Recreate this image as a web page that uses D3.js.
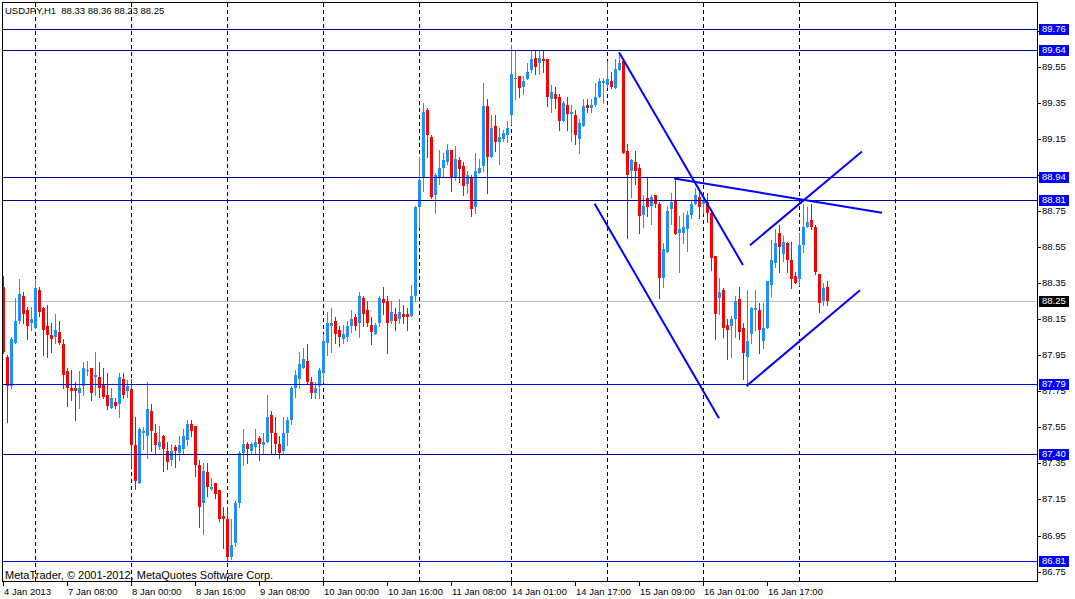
<!DOCTYPE html>
<html>
<head>
<meta charset="utf-8">
<script src="https://cdn.jsdelivr.net/npm/d3@7"></script>
<style>
body{margin:0;background:#fff;}
svg{display:block;font-family:"Liberation Sans",Arial,sans-serif;}
</style>
</head>
<body>
<svg id="chart" width="1075" height="599"></svg>
<script>
// USDJPY H1 bars, oldest first (4 Jan 16:00 .. 16 Jan 21:00)
const opens=[88.33,87.94,87.78,88.02,88.14,88.28,88.20,88.13,88.10,88.31,88.21,88.11,88.06,88.05,88.08,88.01,87.86,87.77,87.77,87.74,
87.78,87.86,87.88,87.83,87.83,87.79,87.73,87.66,87.69,87.68,87.82,87.75,87.76,87.45,87.24,87.52,87.50,87.64,87.52,87.44,
87.50,87.42,87.37,87.44,87.41,87.43,87.48,87.57,87.56,87.34,87.13,87.30,87.21,87.24,87.20,87.06,87.04,86.83,86.91,87.13,
87.41,87.46,87.42,87.44,87.49,87.45,87.47,87.62,87.52,87.46,87.42,87.52,87.59,87.77,87.82,87.88,87.92,87.80,87.74,87.78,
87.85,88.02,88.11,88.14,88.09,88.04,88.05,88.11,88.16,88.13,88.27,88.20,88.12,88.07,88.13,88.26,88.25,88.14,88.18,88.15,
88.18,88.18,88.17,88.28,88.77,88.93,89.31,89.16,88.84,88.94,88.99,89.02,89.09,88.94,89.03,89.00,88.90,88.94,88.77,88.96,
89.00,89.33,89.05,89.22,89.13,89.15,89.17,89.28,89.48,89.50,89.44,89.48,89.53,89.60,89.57,89.59,89.59,89.37,89.40,89.38,
89.25,89.34,89.29,89.28,89.15,89.22,89.34,89.32,89.34,89.38,89.46,89.45,89.47,89.43,89.53,89.58,89.08,88.97,89.02,88.99,
88.73,88.82,88.78,88.84,88.79,88.38,88.52,88.76,88.81,88.63,88.63,88.65,88.73,88.79,88.83,88.79,88.80,88.74,88.50,88.27,
88.31,88.12,88.11,88.15,88.26,88.10,87.94,88.07,88.20,88.20,88.03,88.10,88.34,88.46,88.63,88.51,88.57,88.48,88.39,88.37,
88.56,88.66,88.70,88.66,88.40,88.25,88.33];
const highs=[88.39,87.95,88.05,88.27,88.37,88.30,88.22,88.22,88.37,88.33,88.22,88.23,88.13,88.18,88.14,88.04,87.88,87.87,87.80,87.86,
87.91,87.92,87.88,87.97,87.91,87.88,87.85,87.77,87.71,87.85,87.85,87.81,87.82,87.61,87.55,87.55,87.80,87.68,87.57,87.56,
87.51,87.47,87.46,87.45,87.50,87.54,87.59,87.59,87.56,87.37,87.35,87.35,87.27,87.24,87.20,87.11,87.11,87.04,87.14,87.42,
87.54,87.47,87.47,87.54,87.50,87.52,87.73,87.64,87.61,87.50,87.61,87.61,87.78,87.87,87.97,87.99,88.01,87.83,87.80,87.88,
88.07,88.19,88.21,88.16,88.11,88.12,88.14,88.20,88.18,88.30,88.28,88.25,88.16,88.13,88.28,88.33,88.28,88.25,88.21,88.26,
88.23,88.21,88.34,88.78,89.05,89.35,89.32,89.17,88.96,89.09,89.07,89.12,89.09,89.11,89.05,89.02,88.97,88.95,89.07,89.04,
89.46,89.37,89.28,89.28,89.21,89.20,89.25,89.67,89.64,89.50,89.50,89.57,89.64,89.64,89.64,89.64,89.59,89.45,89.44,89.40,
89.36,89.38,89.34,89.31,89.26,89.37,89.37,89.37,89.46,89.49,89.49,89.58,89.52,89.59,89.63,89.59,89.12,89.04,89.08,89.01,
88.84,88.93,88.84,88.84,88.80,88.57,88.78,88.85,88.93,88.72,88.74,88.75,88.81,88.88,88.86,88.84,88.85,88.76,88.50,88.38,
88.32,88.15,88.17,88.28,88.33,88.13,88.31,88.22,88.31,88.24,88.24,88.36,88.59,88.65,88.67,88.61,88.58,88.58,88.41,88.63,
88.79,88.77,88.79,88.67,88.40,88.35,88.36];
const lows=[87.96,87.58,87.77,88.02,88.13,88.13,88.04,88.09,88.10,88.17,87.95,87.94,87.97,88.02,88.01,87.77,87.67,87.70,87.59,87.66,
87.73,87.84,87.70,87.73,87.72,87.71,87.65,87.66,87.66,87.61,87.71,87.72,87.33,87.21,87.24,87.43,87.38,87.42,87.40,87.43,
87.31,87.32,87.34,87.33,87.37,87.41,87.45,87.50,87.28,87.00,86.96,87.17,87.20,87.16,87.03,86.88,86.81,86.82,86.89,87.11,
87.34,87.35,87.40,87.40,87.37,87.40,87.47,87.40,87.40,87.38,87.40,87.45,87.57,87.72,87.77,87.88,87.79,87.71,87.71,87.71,
87.80,87.95,87.97,88.02,88.00,88.02,88.03,88.08,88.09,88.05,88.11,88.11,88.01,88.07,88.11,88.18,87.96,88.13,88.09,88.13,
88.13,88.09,88.17,88.25,88.66,88.86,89.05,88.82,88.74,88.90,88.94,89.01,88.86,88.92,88.91,88.84,88.85,88.72,88.74,88.96,
88.97,88.85,89.05,89.08,89.01,89.14,89.13,89.23,89.37,89.38,89.40,89.48,89.52,89.51,89.51,89.52,89.33,89.30,89.32,89.20,
89.25,89.20,89.14,89.12,89.07,89.22,89.30,89.30,89.33,89.38,89.35,89.44,89.43,89.43,89.53,89.07,88.60,88.83,88.90,88.63,
88.66,88.72,88.68,88.77,88.27,88.33,88.52,88.68,88.62,88.41,88.57,88.53,88.71,88.79,88.71,88.74,88.69,88.42,88.04,88.18,
88.05,87.93,87.94,88.05,88.04,87.82,87.78,88.02,88.09,87.96,87.99,88.10,88.28,88.44,88.41,88.47,88.41,88.32,88.35,88.34,
88.52,88.66,88.65,88.40,88.19,88.23,88.23];
const closes=[87.97,87.78,88.04,88.14,88.29,88.18,88.11,88.15,88.32,88.19,88.09,88.06,88.04,88.09,88.02,87.84,87.77,87.75,87.75,87.77,
87.88,87.87,87.74,87.84,87.77,87.72,87.67,87.71,87.67,87.83,87.73,87.78,87.45,87.25,87.54,87.53,87.65,87.53,87.45,87.47,
87.43,87.36,87.42,87.42,87.45,87.50,87.57,87.53,87.34,87.11,87.31,87.22,87.22,87.18,87.04,87.04,86.83,86.90,87.13,87.41,
87.46,87.43,87.46,87.47,87.46,87.47,87.61,87.52,87.46,87.41,87.52,87.59,87.77,87.84,87.90,87.93,87.80,87.74,87.77,87.87,
88.03,88.13,88.13,88.07,88.05,88.07,88.11,88.15,88.11,88.28,88.18,88.13,88.08,88.12,88.27,88.24,88.13,88.19,88.14,88.19,
88.16,88.16,88.28,88.77,88.92,89.30,89.17,88.83,88.95,88.99,89.03,89.09,88.94,89.04,88.98,88.89,88.95,88.76,88.97,88.99,
89.33,89.05,89.21,89.13,89.16,89.18,89.21,89.51,89.49,89.43,89.47,89.52,89.59,89.55,89.60,89.58,89.38,89.41,89.37,89.25,
89.35,89.29,89.30,89.17,89.24,89.33,89.32,89.34,89.38,89.47,89.47,89.48,89.44,89.54,89.57,89.07,88.95,89.03,88.97,88.72,
88.78,88.77,88.83,88.79,88.38,88.54,88.75,88.80,88.62,88.65,88.66,88.73,88.79,88.84,88.77,88.81,88.74,88.49,88.18,88.30,
88.10,88.09,88.15,88.25,88.08,87.96,88.03,88.21,88.21,88.09,88.10,88.36,88.48,88.57,88.55,88.58,88.48,88.37,88.35,88.56,
88.66,88.69,88.66,88.41,88.24,88.32,88.25];

const symbol='USDJPY,H1';
const timeBars=[0,16,32,48,64,80,96,112,127,143,159,175,191];
const timeTexts=['4 Jan 2013','7 Jan 08:00','8 Jan 00:00','8 Jan 16:00','9 Jan 08:00','10 Jan 00:00','10 Jan 16:00',
  '11 Jan 08:00','14 Jan 01:00','14 Jan 17:00','15 Jan 09:00','16 Jan 01:00','16 Jan 17:00'];
const gridBars=[8,32,56,80,104,127,151,175,199,223];
const priceTicks=[86.75,86.95,87.15,87.35,87.55,87.75,87.95,88.15,88.35,88.55,88.75,88.95,89.15,89.35,89.55,89.75];
const levels=[89.76,89.64,88.94,88.81,87.79,87.40,86.81];
const levelColors=['#000090','#000090','#000090','#000090','#0000ff','#000090','#0000ff'];
// trend lines: [bar1, price1, bar2, price2]
const trendLines=[
  [154,89.63,185,88.45],
  [147.9,88.79,179,87.60],
  [167.8,88.93,219.75,88.74],
  [186.75,88.56,214.75,89.08],
  [185.9,87.78,214.25,88.31]
];

const W=1075,H=599;
const pL=3,pR=1037,pT=3,pB=581;
const bull='#1e90ff',bear='#ff0000';

const x=d3.scaleLinear().domain([0,258.5]).range([pL,pR]);
const y=d3.scaleLinear().domain([86.75,89.55]).range([571.6,66.7]);
const px=v=>Math.round(x(v));
const py=v=>Math.round(y(v));

const bars=d3.range(opens.length).map(i=>({i,o:opens[i],h:highs[i],l:lows[i],c:closes[i]}));
const last=bars[bars.length-1];

const svg=d3.select('#chart');
svg.append('rect').attr('width',W).attr('height',H).attr('fill','#fff');
svg.append('defs').append('clipPath').attr('id','plot')
  .append('rect').attr('x',pL).attr('y',pT).attr('width',pR-pL).attr('height',pB-pT);

const plot=svg.append('g').attr('clip-path','url(#plot)').attr('shape-rendering','crispEdges');

// vertical grid
plot.append('g').selectAll('line').data(gridBars).join('line')
  .attr('x1',d=>px(d)+0.5).attr('x2',d=>px(d)+0.5)
  .attr('y1',pT).attr('y2',pB)
  .attr('stroke','#000').attr('stroke-dasharray','4,3');

// bid line
plot.append('line')
  .attr('x1',pL).attr('x2',pR)
  .attr('y1',py(last.c)+0.5).attr('y2',py(last.c)+0.5)
  .attr('stroke','#c0c0c0');

// candles
const cg=plot.append('g');
cg.selectAll('rect.wick').data(bars).join('rect').attr('class','wick')
  .attr('x',d=>px(d.i)).attr('width',1)
  .attr('y',d=>py(d.h)).attr('height',d=>py(d.l)-py(d.h)+1)
  .attr('fill',d=>d.c>=d.o?bull:bear);
cg.selectAll('rect.body').data(bars).join('rect').attr('class','body')
  .attr('x',d=>px(d.i)-1).attr('width',3)
  .attr('y',d=>py(Math.max(d.o,d.c)))
  .attr('height',d=>Math.max(1,py(Math.min(d.o,d.c))-py(Math.max(d.o,d.c))))
  .attr('fill',d=>d.c>=d.o?bull:bear);

// horizontal levels
plot.append('g').selectAll('line').data(levels).join('line')
  .attr('x1',pL).attr('x2',pR)
  .attr('y1',d=>py(d)+0.5).attr('y2',d=>py(d)+0.5)
  .attr('stroke',(d,i)=>levelColors[i]);

// trend lines
plot.append('g').attr('shape-rendering','auto').selectAll('line').data(trendLines).join('line')
  .attr('x1',d=>x(d[0])).attr('y1',d=>y(d[1]))
  .attr('x2',d=>x(d[2])).attr('y2',d=>y(d[3]))
  .attr('stroke','#0000ff').attr('stroke-width',2);

// frame
svg.append('rect').attr('shape-rendering','crispEdges')
  .attr('x',pL-0.5).attr('y',pT-0.5).attr('width',pR-pL+1).attr('height',pB-pT+1)
  .attr('fill','none').attr('stroke','#000');

// price axis
const ax=svg.append('g').attr('font-size','9.5px');
ax.selectAll('line').data(priceTicks).join('line')
  .attr('shape-rendering','crispEdges')
  .attr('x1',pR).attr('x2',pR+4)
  .attr('y1',d=>py(d)+0.5).attr('y2',d=>py(d)+0.5).attr('stroke','#000');
ax.selectAll('text').data(priceTicks).join('text')
  .attr('x',pR+5).attr('y',d=>py(d)).attr('dy','0.36em')
  .text(d=>d.toFixed(2));

function priceBox(p,bg){
  const g=svg.append('g').attr('font-size','9.5px');
  g.append('rect').attr('shape-rendering','crispEdges')
    .attr('x',pR+2).attr('y',py(p)-5).attr('width',30).attr('height',11).attr('fill',bg);
  g.append('text').attr('x',pR+5).attr('y',py(p)).attr('dy','0.36em')
    .attr('fill','#fff').text(p.toFixed(2));
}
levels.forEach(p=>priceBox(p,'#0000ff'));
priceBox(last.c,'#000');

// time axis
const tx=svg.append('g').attr('font-size','9.5px');
tx.selectAll('line').data(timeBars).join('line')
  .attr('shape-rendering','crispEdges')
  .attr('x1',d=>px(d)+0.5).attr('x2',d=>px(d)+0.5)
  .attr('y1',pB).attr('y2',pB+5).attr('stroke','#000');
tx.selectAll('text').data(timeBars).join('text')
  .attr('x',d=>px(d)+1).attr('y',595)
  .text((d,i)=>timeTexts[i]);

// captions
svg.append('text').attr('x',5).attr('y',14).attr('font-size','9.5px')
  .style('white-space','pre')
  .text(`${symbol}  ${[last.o,last.h,last.l,last.c].map(v=>v.toFixed(2)).join(' ')}`);
svg.append('text').attr('x',5).attr('y',579).attr('font-size','11px')
  .text('MetaTrader, © 2001-2012, MetaQuotes Software Corp.');
</script>
</body>
</html>
